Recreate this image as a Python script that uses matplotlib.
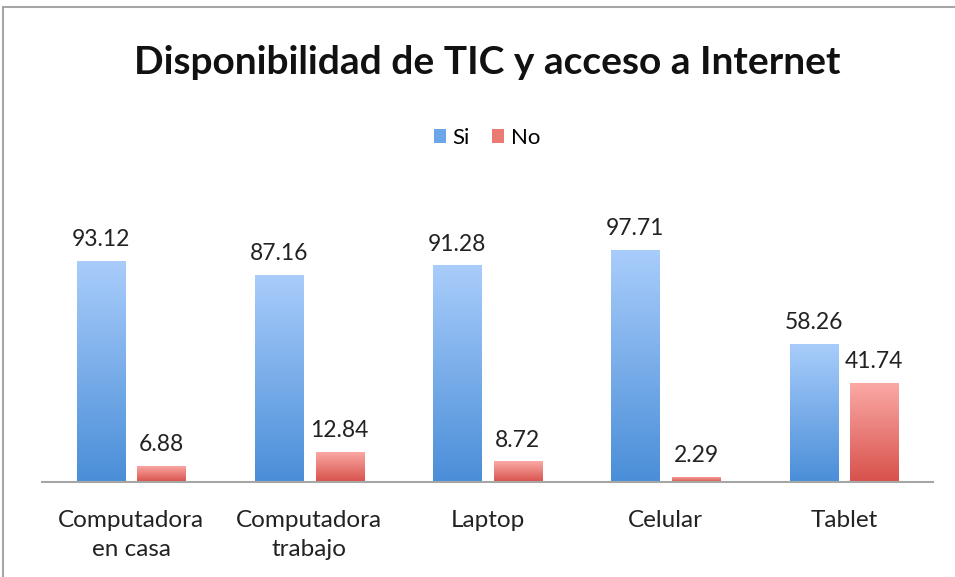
import matplotlib.pyplot as plt
import numpy as np
from matplotlib.colors import LinearSegmentedColormap
from matplotlib.patches import Rectangle, Patch

categorias = ["Computadora\nen casa", "Computadora\ntrabajo", "Laptop", "Celular", "Tablet"]
si = [93.12, 87.16, 91.28, 97.71, 58.26]
no = [6.88, 12.84, 8.72, 2.29, 41.74]

plt.rcParams['font.family'] = ['Lato', 'DejaVu Sans']

fig = plt.figure(figsize=(9.55, 5.77), dpi=100)
ax = fig.add_axes([42/955, 95/577, 891/955, 285/577])

# marco del grafico (recortado a la derecha y abajo)
fig.patches.append(Rectangle((3/955, -0.1), 1.2, (570/577) + 0.1, transform=fig.transFigure,
                             fill=False, edgecolor='#a6a6a6', linewidth=1.5))

azul = LinearSegmentedColormap.from_list('azul', ['#4a8ed8', '#a9cdfb'])
rojo = LinearSegmentedColormap.from_list('rojo', ['#d8514b', '#fbaaa6'])

x = np.arange(len(categorias))
w = 0.27
grad = np.linspace(0, 1, 256).reshape(-1, 1)

def barras(pos, vals, cmap, label):
    bars = ax.bar(pos, vals, width=w, color='none', edgecolor='none', label=label, zorder=2)
    for b in bars:
        im = ax.imshow(grad, extent=[b.get_x(), b.get_x() + b.get_width(), 0, b.get_height()],
                       origin='lower', cmap=cmap, aspect='auto', zorder=2)
        im.set_clip_path(b)
    for p, v in zip(pos, vals):
        ax.text(p, v + 4.5, f"{v:.2f}", ha='center', va='bottom', fontsize=16.5, color='#222222')
    return bars

barras(x - 0.17, si, azul, 'Si')
barras(x + 0.17, no, rojo, 'No')

ax.set_xlim(-0.5, 4.5)
ax.set_ylim(0, 120)
ax.set_xticks(x)
ax.set_xticklabels(categorias, fontsize=17.5, color='#222222', linespacing=1.5)
ax.tick_params(axis='x', length=0, pad=20)
ax.set_yticks([])
for s in ['top', 'right', 'left']:
    ax.spines[s].set_visible(False)
ax.spines['bottom'].set_color('#a6a6a6')
ax.spines['bottom'].set_linewidth(1.5)

handles = [Patch(facecolor='#6aa6e8'), Patch(facecolor='#ea7a74')]
fig.legend(handles, ['Si', 'No'], loc='center', bbox_to_anchor=(487/955, 1 - 138/577),
           ncol=2, frameon=False, fontsize=16, handlelength=0.55, handleheight=0.55,
           handletextpad=0.3, columnspacing=1.0)

fig.text(487/955, 1 - 63/577, "Disponibilidad de TIC y acceso a Internet", ha='center', va='center',
         fontsize=28, fontweight='bold', color='#111111')

fig.savefig('out.png', dpi=100)
